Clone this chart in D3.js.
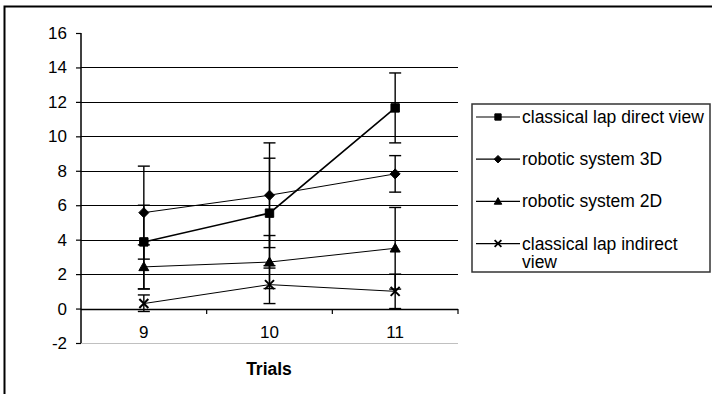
<!DOCTYPE html>
<html>
<head>
<meta charset="utf-8">
<script src="https://cdn.jsdelivr.net/npm/d3@7"></script>
<style>
  body { margin: 0; background: #fff; }
  svg { display: block; font-family: "Liberation Sans", Arial, sans-serif; }
</style>
</head>
<body>
<svg width="712" height="394"></svg>
<script>
// trials on x, score on y
var categories = ["9", "10", "11"];
var seriesNames = ["classical lap direct view", "robotic system 3D", "robotic system 2D", "classical lap indirect view"];
var directView = [3.87, 5.54, 11.65];
var robotic3D = [5.57, 6.58, 7.82];
var robotic2D = [2.42, 2.7, 3.5];
var indirectView = [0.29, 1.39, 1.0];
// error bars (plus / minus)
var directViewErrPlus = [2.13, 3.19, 2.03];
var directViewErrMinus = [2.73, 3.19, 2.03];
var robotic3DErr = [2.7, 3.04, 1.06];
var robotic2DErr = [1.28, 1.54, 2.37];
var indirectViewErrPlus = [0.5, 1.1, 1.0];
var indirectViewErrMinus = [0.46, 1.1, 1.0];
var yTicks = [-2, 0, 2, 4, 6, 8, 10, 12, 14, 16];

var series = [
  { name: seriesNames[0], values: directView, plus: directViewErrPlus, minus: directViewErrMinus, marker: "square", width: 1.6 },
  { name: seriesNames[1], values: robotic3D, plus: robotic3DErr, minus: robotic3DErr, marker: "diamond", width: 1 },
  { name: seriesNames[2], values: robotic2D, plus: robotic2DErr, minus: robotic2DErr, marker: "triangle", width: 1 },
  { name: seriesNames[3], values: indirectView, plus: indirectViewErrPlus, minus: indirectViewErrMinus, marker: "cross", width: 1 }
];

var svg = d3.select("svg");
var plotLeft = 81, plotRight = 458, plotTop = 33, plotBottom = 343;

var x = d3.scaleBand().domain(categories).range([plotLeft, plotRight]);
var y = d3.scaleLinear().domain([-2, 16]).range([plotBottom, plotTop]);

// outer chart border
svg.append("rect")
    .attr("x", 4.5).attr("y", 6.5)
    .attr("width", 720).attr("height", 400)
    .attr("fill", "none").attr("stroke", "#000").attr("stroke-width", 2);

// gridlines
svg.append("g")
  .selectAll("line")
  .data(yTicks.filter(function(d) { return d > 0 && d < 16; }))
  .enter().append("line")
    .attr("x1", plotLeft).attr("x2", plotRight)
    .attr("y1", function(d) { return Math.round(y(d)) + 0.5; })
    .attr("y2", function(d) { return Math.round(y(d)) + 0.5; })
    .attr("stroke", "#000").attr("stroke-width", 1);

// bottom border of the plot area
svg.append("line")
    .attr("x1", plotLeft).attr("x2", plotRight)
    .attr("y1", plotBottom + 0.5).attr("y2", plotBottom + 0.5)
    .attr("stroke", "#c0c0c0");

// y axis
var yAxis = svg.append("g")
    .attr("transform", "translate(" + plotLeft + ",0)")
    .call(d3.axisLeft(y).tickValues(yTicks).tickSize(5).tickPadding(9).tickFormat(function(d) { return String(d); }));
yAxis.select(".domain").attr("stroke", "#000").attr("stroke-width", 1.5)
    .attr("d", "M0," + plotTop + "V" + plotBottom);
yAxis.selectAll(".tick line").attr("stroke", "#000").attr("stroke-width", 1.2);
yAxis.selectAll("text").attr("font-size", 17).attr("font-family", "Liberation Sans, Arial, sans-serif").attr("fill", "#000");

// x axis at zero
var xAxisG = svg.append("g").attr("transform", "translate(0," + Math.round(y(0)) + ")");
xAxisG.append("line")
    .attr("x1", plotLeft).attr("x2", plotRight)
    .attr("y1", 0.5).attr("y2", 0.5)
    .attr("stroke", "#000").attr("stroke-width", 1.5);
xAxisG.selectAll("line.tick")
  .data(categories)
  .enter().append("line")
    .attr("class", "tick")
    .attr("x1", function(d) { return x(d) + x.bandwidth(); })
    .attr("x2", function(d) { return x(d) + x.bandwidth(); })
    .attr("y1", 0).attr("y2", 5)
    .attr("stroke", "#000").attr("stroke-width", 1.2);

svg.append("g").selectAll("text")
  .data(categories)
  .enter().append("text")
    .attr("x", function(d) { return x(d) + x.bandwidth() / 2; })
    .attr("y", 338)
    .attr("text-anchor", "middle")
    .attr("font-size", 17)
    .text(function(d) { return d; });

svg.append("text")
    .attr("x", 269).attr("y", 375)
    .attr("text-anchor", "middle")
    .attr("font-size", 17.5).attr("font-weight", "bold")
    .text("Trials");

function cx(i) { return x(categories[i]) + x.bandwidth() / 2; }

function markerPath(type, s) {
  if (type === "square") return "M" + (-s) + "," + (-s) + "h" + 2 * s + "v" + 2 * s + "h" + (-2 * s) + "Z";
  if (type === "diamond") return "M0," + (-s) + "L" + s + ",0L0," + s + "L" + (-s) + ",0Z";
  if (type === "triangle") return "M0," + (-s) + "L" + s + "," + (s * 0.75) + "L" + (-s) + "," + (s * 0.75) + "Z";
  return "M" + (-s) + "," + (-s) + "L" + s + "," + s + "M" + (-s) + "," + s + "L" + s + "," + (-s);
}
var markerSize = { square: 4.2, diamond: 5, triangle: 5, cross: 4.5 };

var line = d3.line()
    .x(function(d, i) { return cx(i); })
    .y(function(d) { return y(d); });

// error bars
series.forEach(function(s) {
  var g = svg.append("g").attr("stroke", "#000").attr("stroke-width", 1.4);
  s.values.forEach(function(v, i) {
    var hi = y(v + s.plus[i]), lo = y(v - s.minus[i]);
    g.append("line").attr("x1", cx(i)).attr("x2", cx(i)).attr("y1", hi).attr("y2", lo);
    g.append("line").attr("x1", cx(i) - 6).attr("x2", cx(i) + 6).attr("y1", hi).attr("y2", hi);
    g.append("line").attr("x1", cx(i) - 6).attr("x2", cx(i) + 6).attr("y1", lo).attr("y2", lo);
  });
});

// series lines and markers
series.forEach(function(s) {
  svg.append("path")
      .datum(s.values)
      .attr("d", line)
      .attr("fill", "none")
      .attr("stroke", "#000")
      .attr("stroke-width", s.width);
  svg.append("g").selectAll("path")
    .data(s.values)
    .enter().append("path")
      .attr("transform", function(d, i) { return "translate(" + cx(i) + "," + y(d) + ")"; })
      .attr("d", markerPath(s.marker, markerSize[s.marker]))
      .attr("fill", s.marker === "cross" ? "none" : "#000")
      .attr("stroke", "#000")
      .attr("stroke-width", s.marker === "cross" ? 2 : 1);
});

// legend
var legend = svg.append("g");
legend.append("rect")
    .attr("x", 472).attr("y", 104)
    .attr("width", 238).attr("height", 168)
    .attr("fill", "#fff").attr("stroke", "#333").attr("stroke-width", 1.5);

var rows = legend.selectAll("g")
  .data(series)
  .enter().append("g")
    .attr("transform", function(d, i) { return "translate(0," + (117 + i * 42.2) + ")"; });

rows.append("line")
    .attr("x1", 476).attr("x2", 520)
    .attr("stroke", "#000").attr("stroke-width", 1.2);
rows.append("path")
    .attr("transform", "translate(498,0)")
    .attr("d", function(d) { return markerPath(d.marker, markerSize[d.marker] * 0.75); })
    .attr("fill", function(d) { return d.marker === "cross" ? "none" : "#000"; })
    .attr("stroke", "#000")
    .attr("stroke-width", function(d) { return d.marker === "cross" ? 1.8 : 1; });
rows.append("text")
    .attr("x", 522).attr("y", 6)
    .attr("font-size", 17.5)
    .each(function(d) {
      var t = d3.select(this);
      if (d.name === "classical lap indirect view") {
        t.append("tspan").attr("x", 522).text("classical lap indirect");
        t.append("tspan").attr("x", 522).attr("dy", 18.5).text("view");
      } else {
        t.text(d.name);
      }
    });
</script>
</body>
</html>
